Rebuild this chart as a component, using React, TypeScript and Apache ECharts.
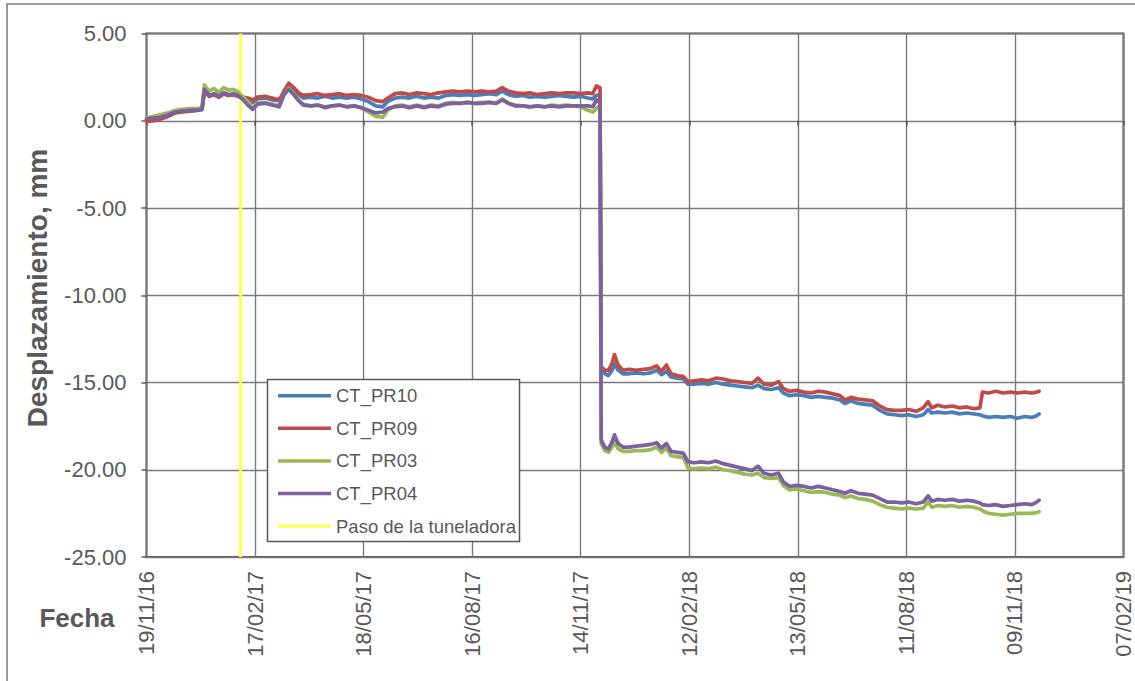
import { useEffect, useRef } from 'react';
import * as echarts from 'echarts';

const FONT = '"Liberation Sans", Arial, sans-serif';

const xTickLabels = ['19/11/16', '17/02/17', '18/05/17', '16/08/17', '14/11/17', '12/02/18', '13/05/18', '11/08/18', '09/11/18', '07/02/19'];
const xTickStepDays = 90;
const yTitle = 'Desplazamiento, mm';
const xTitle = 'Fecha';

// days since 19/11/16
const days = [
  0, 6, 12, 18, 24, 30, 36, 42, 46, 48,
  52, 56, 60, 64, 68, 72, 76, 80, 84, 88,
  92, 98, 104, 110, 114, 118, 122, 126, 130, 136,
  142, 148, 154, 160, 166, 172, 178, 184, 190, 196,
  200, 206, 212, 218, 224, 230, 236, 242, 248, 254,
  260, 266, 272, 278, 284, 290, 295, 300, 306, 312,
  318, 324, 330, 336, 342, 348, 354, 360, 366, 370,
  373, 376,
  377, 380, 383, 386, 388, 391, 395, 400, 406, 412,
  418, 423, 427, 431, 435, 440, 445, 449, 454, 460,
  466, 472, 478, 484, 490, 496, 502, 507, 512, 518,
  524, 528, 533, 539, 545, 551, 557, 563, 569, 575,
  579, 584, 590, 596, 602, 608, 614, 620, 626, 632,
  638, 644, 648, 651, 656, 662, 668, 674, 680, 686,
  691, 693, 698, 704, 710, 716, 722, 728, 734, 738,
  740,
];

const ctPR10 = [
  0.05, 0.1, 0.2, 0.35, 0.5, 0.55, 0.6, 0.6, 0.65, 1.7,
  1.4, 1.5, 1.35, 1.55, 1.45, 1.5, 1.4, 1.3, 1.2, 1.05,
  1.25, 1.3, 1.2, 1.15, 1.6, 2.0, 1.75, 1.5, 1.3, 1.35,
  1.3, 1.4, 1.3, 1.35, 1.3, 1.35, 1.25, 1.1, 0.85, 0.8,
  1.1, 1.3, 1.35, 1.3, 1.4, 1.3, 1.35, 1.3, 1.45, 1.5,
  1.45, 1.5, 1.45, 1.5, 1.55, 1.5, 1.7, 1.5, 1.4, 1.45,
  1.35, 1.4, 1.35, 1.4, 1.45, 1.4, 1.35, 1.4, 1.3, 1.25,
  1.45, 1.5,
  -14.3, -14.5, -14.6, -14.3, -13.9, -14.3, -14.5, -14.5, -14.45, -14.5,
  -14.45, -14.3, -14.55, -14.35, -14.7, -14.75, -14.8, -15.1, -15.1, -15.05,
  -15.1, -15.0, -15.1, -15.15, -15.2, -15.25, -15.3, -15.15, -15.35, -15.4,
  -15.3, -15.6, -15.75, -15.7, -15.75, -15.85, -15.8, -15.85, -15.9, -16.0,
  -16.2, -16.05, -16.2, -16.25, -16.3, -16.6, -16.8, -16.85, -16.9, -16.85,
  -16.95, -16.85, -16.55, -16.75, -16.7, -16.75, -16.7, -16.8, -16.75, -16.8,
  -16.85, -16.9, -17.0, -16.95, -17.0, -16.95, -17.05, -16.95, -17.0, -16.9,
  -16.8,
];

const ctPR09 = [
  -0.05, 0.0, 0.1, 0.25, 0.45, 0.5, 0.55, 0.6, 0.65, 1.7,
  1.4, 1.5, 1.35, 1.55, 1.45, 1.5, 1.4, 1.35, 1.3, 1.2,
  1.35, 1.4, 1.3, 1.2, 1.7, 2.15, 1.9, 1.6, 1.45, 1.5,
  1.55, 1.45, 1.5, 1.55, 1.45, 1.5, 1.45, 1.35, 1.15, 1.1,
  1.3, 1.55, 1.6, 1.5, 1.6, 1.55, 1.5, 1.6, 1.65, 1.7,
  1.65, 1.7, 1.65, 1.7, 1.65, 1.7, 1.9, 1.7, 1.6, 1.55,
  1.6, 1.5, 1.55, 1.6, 1.55, 1.6, 1.6, 1.55, 1.6, 1.55,
  2.0, 1.9,
  -14.1, -14.3, -14.3, -13.9, -13.4, -14.0, -14.3, -14.25, -14.3, -14.25,
  -14.2, -14.05, -14.35, -14.0, -14.5, -14.6, -14.65, -14.95, -14.9, -14.85,
  -14.9, -14.75, -14.8, -14.9, -14.95, -15.0, -15.05, -14.75, -15.1, -15.15,
  -14.95, -15.35, -15.5, -15.45, -15.55, -15.6, -15.5, -15.55, -15.65, -15.75,
  -16.0, -15.85, -15.95, -16.0, -16.05, -16.35, -16.55, -16.6, -16.6, -16.55,
  -16.65, -16.45, -16.1, -16.45, -16.3, -16.4, -16.35, -16.45, -16.4, -16.5,
  -16.45, -15.55, -15.6, -15.5, -15.6, -15.55, -15.6, -15.55, -15.6, -15.55,
  -15.5,
];

const ctPR03 = [
  0.15, 0.25, 0.35, 0.45, 0.6, 0.65, 0.7, 0.7, 0.75, 2.05,
  1.7, 1.85, 1.6, 1.9, 1.75, 1.8, 1.65, 1.35, 1.1, 0.75,
  1.0, 1.05, 0.95, 0.85, 1.5, 1.85, 1.55, 1.2, 0.95, 0.85,
  0.9, 0.8, 0.85, 0.9, 0.8, 0.85, 0.75, 0.5, 0.25, 0.2,
  0.6, 0.85, 0.9, 0.8, 0.9, 0.8, 0.9, 0.85, 1.0, 1.05,
  1.0, 1.05, 1.0, 1.05, 1.05, 1.0, 1.25, 1.0, 0.9, 0.85,
  0.8, 0.85, 0.8, 0.9, 0.85, 0.9, 0.85, 0.8, 0.6, 0.5,
  0.7, 0.9,
  -18.5, -18.9, -19.0, -18.7, -18.4, -18.8, -18.95, -18.95, -18.9, -18.9,
  -18.85, -18.7, -19.0, -18.75, -19.2, -19.25, -19.3, -19.9, -19.95, -19.9,
  -19.95, -19.85, -20.0, -20.05, -20.15, -20.25, -20.3, -20.2, -20.45, -20.5,
  -20.45, -20.9, -21.15, -21.1, -21.2, -21.3, -21.25, -21.3, -21.4, -21.45,
  -21.6, -21.5, -21.65, -21.7, -21.8, -22.0, -22.15, -22.2, -22.25, -22.2,
  -22.25, -22.2, -21.85, -22.15, -22.05, -22.1, -22.05, -22.15, -22.1, -22.15,
  -22.25, -22.35, -22.5, -22.55, -22.6, -22.55, -22.5, -22.5, -22.5, -22.45,
  -22.4,
];

const ctPR04 = [
  0.1, 0.15, 0.2, 0.35, 0.5, 0.55, 0.6, 0.6, 0.65, 1.8,
  1.45, 1.55, 1.4, 1.6, 1.5, 1.55, 1.45, 1.2, 0.9, 0.65,
  0.95, 1.0, 0.9, 0.8, 1.5, 1.8, 1.5, 1.15, 0.9, 0.85,
  0.9, 0.75, 0.85, 0.9, 0.8, 0.85, 0.75, 0.6, 0.45, 0.5,
  0.7, 0.8, 0.85, 0.75, 0.85, 0.75, 0.85, 0.8, 0.95, 1.0,
  1.0, 1.05, 1.0, 1.0, 1.05, 1.0, 1.2, 1.0, 0.85, 0.85,
  0.8, 0.85, 0.8, 0.85, 0.8, 0.85, 0.85, 0.85, 0.85, 0.8,
  1.2, 1.1,
  -18.3, -18.7, -18.8, -18.4, -18.0, -18.5, -18.7, -18.7, -18.65, -18.6,
  -18.55, -18.45, -18.75, -18.5, -18.95, -19.0, -19.05, -19.55, -19.6, -19.55,
  -19.6, -19.5, -19.65, -19.75, -19.85, -19.95, -20.05, -19.8, -20.2, -20.3,
  -20.2, -20.7, -20.95, -20.9, -20.95, -21.05, -20.95, -21.05, -21.15, -21.25,
  -21.35, -21.2, -21.35, -21.4, -21.45, -21.65, -21.85, -21.85, -21.9, -21.85,
  -21.95, -21.85, -21.5, -21.8, -21.7, -21.75, -21.7, -21.8, -21.75, -21.8,
  -21.9, -22.0, -22.05, -22.0, -22.1, -22.05, -22.0, -21.95, -22.0, -21.85,
  -21.75,
];

const seriesNames = ['CT_PR10', 'CT_PR09', 'CT_PR03', 'CT_PR04'];
const seriesValues = [ctPR10, ctPR09, ctPR03, ctPR04];
const seriesColors = ['#4A7EBB', '#BE4B48', '#98B954', '#7D60A0'];

const tbmName = 'Paso de la tuneladora';
const tbmDay = 78;
const tbmColor = '#FFFF60';

const yMin = -25;
const yMax = 5;
const yStep = 5;

export default function App() {
  const ref = useRef<HTMLDivElement>(null);

  useEffect(() => {
    if (!ref.current) return;
    const chart = echarts.init(ref.current, undefined, { renderer: 'svg' });
    const textColor = '#595959';

    const dataSeries = seriesNames.map((name, i) => ({
      name,
      type: 'line',
      data: days.map((d, k) => [d, seriesValues[i][k]]),
      showSymbol: false,
      symbol: 'none',
      color: seriesColors[i],
      lineStyle: { width: 3.7, color: seriesColors[i], cap: 'round', join: 'round' },
      z: 3,
    }));

    const option: any = {
      animation: false,
      backgroundColor: '#ffffff',
      textStyle: { fontFamily: FONT },
      grid: {
        left: 146.5,
        top: 33.5,
        right: 11.5,
        bottom: 124,
        show: true,
        borderColor: '#595959',
        borderWidth: 2,
        backgroundColor: 'transparent',
      },
      xAxis: {
        type: 'value',
        min: 0,
        max: xTickStepDays * (xTickLabels.length - 1),
        interval: xTickStepDays,
        axisLine: { show: false },
        axisTick: { show: true, length: 5, lineStyle: { color: '#595959', width: 1.5 } },
        splitLine: { show: true, lineStyle: { color: '#7a7a7a', width: 1.4 } },
        axisLabel: {
          rotate: 90,
          fontSize: 22,
          color: textColor,
          fontFamily: FONT,
          margin: 14,
          formatter: (v: number) => xTickLabels[Math.round(v / xTickStepDays)] ?? '',
        },
      },
      yAxis: {
        type: 'value',
        min: yMin,
        max: yMax,
        interval: yStep,
        axisLine: { show: false },
        axisTick: { show: true, length: 5, lineStyle: { color: '#595959', width: 1.5 } },
        splitLine: { show: true, lineStyle: { color: '#7a7a7a', width: 1.4 } },
        axisLabel: {
          fontSize: 22,
          color: textColor,
          fontFamily: FONT,
          margin: 20,
          formatter: (v: number) => v.toFixed(2),
        },
      },
      legend: {
        data: [...seriesNames, tbmName],
        orient: 'vertical',
        left: 278,
        top: 385.7,
        padding: 0,
        itemWidth: 53,
        itemHeight: 3.5,
        itemGap: 12.6,
        icon: 'rect',
        z: 20,
        textStyle: { fontSize: 18.5, color: textColor, lineHeight: 20, fontFamily: FONT },
      },
      graphic: [
        {
          type: 'rect',
          shape: { x: 7, y: 4, width: 1140, height: 690 },
          style: { fill: 'none', stroke: '#7a7a7a', lineWidth: 1.5 },
          z: 1,
        },
        {
          type: 'rect',
          shape: { x: 267.5, y: 379.5, width: 252, height: 162 },
          style: { fill: '#ffffff', stroke: '#595959', lineWidth: 1.5 },
          z: 10,
        },
        {
          type: 'text',
          x: 37,
          y: 288,
          rotation: Math.PI / 2,
          style: {
            text: yTitle,
            fontSize: 28,
            fontWeight: 'bold',
            fontFamily: FONT,
            fill: textColor,
            align: 'center',
            verticalAlign: 'middle',
          },
          z: 10,
        },
        {
          type: 'text',
          x: 77,
          y: 618,
          style: {
            text: xTitle,
            fontSize: 26,
            fontWeight: 'bold',
            fontFamily: FONT,
            fill: textColor,
            align: 'center',
            verticalAlign: 'middle',
          },
          z: 10,
        },
      ],
      series: [
        ...dataSeries,
        {
          name: tbmName,
          type: 'line',
          data: [
            [tbmDay, yMin],
            [tbmDay, yMax],
          ],
          showSymbol: false,
          symbol: 'none',
          color: tbmColor,
          lineStyle: { width: 3.2, color: tbmColor },
          z: 2,
        },
      ],
    };

    chart.setOption(option);
    return () => chart.dispose();
  }, []);

  return (
    <div
      ref={ref}
      style={{ position: 'fixed', left: 0, top: 0, width: 1135, height: 681 }}
    />
  );
}
